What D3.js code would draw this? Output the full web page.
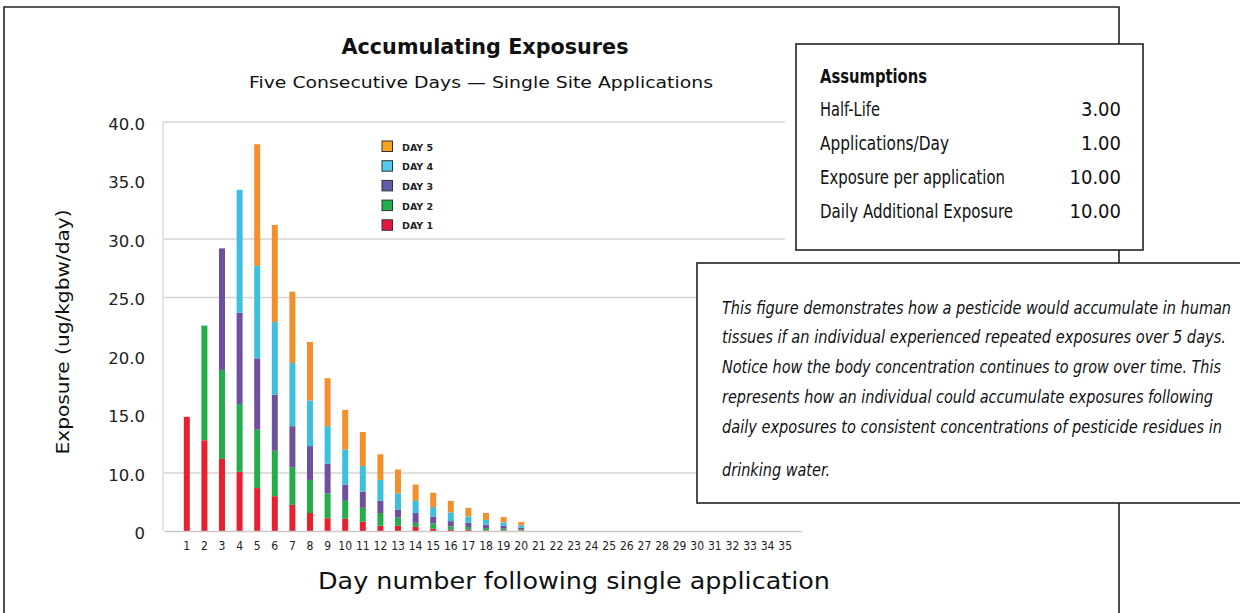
<!DOCTYPE html>
<html><head><meta charset="utf-8">
<script src="https://cdn.jsdelivr.net/npm/d3@7"></script>
<style>
html,body{margin:0;padding:0;background:#fff;}
svg{display:block;}
</style></head><body>
<svg id="chart" width="1240" height="613"></svg>
<script>
// ---------- DATA ----------
const days = ["1","2","3","4","5","6","7","8","9","10","11","12","13","14","15","16","17","18","19","20",
              "21","22","23","24","25","26","27","28","29","30","31","32","33","34","35"];
const seriesNames = ["DAY 1","DAY 2","DAY 3","DAY 4","DAY 5"];
const day1 = [14.8,12.8,11.2,10.1,7.4,6.0,4.5,3.1,2.2,2.1,1.6,0.9,0.9,0.7,0.4,0.2,0.2,0.1,0.1,0.1,0,0,0,0,0,0,0,0,0,0,0,0,0,0,0];
const day2 = [0,9.8,7.6,5.8,6.3,5.9,6.0,5.7,4.3,3.1,2.4,2.2,1.4,0.7,0.9,0.6,0.5,0.4,0.3,0.2,0,0,0,0,0,0,0,0,0,0,0,0,0,0,0];
const day3 = [0,0,10.4,7.8,6.1,4.8,3.5,3.5,4.3,2.8,2.8,2.1,1.4,1.7,1.2,0.9,0.7,0.6,0.5,0.3,0,0,0,0,0,0,0,0,0,0,0,0,0,0,0];
const day4 = [0,0,0,10.5,7.9,6.2,5.4,3.9,3.2,4.0,3.8,3.6,2.8,2.1,1.6,1.5,1.1,0.8,0.6,0.4,0,0,0,0,0,0,0,0,0,0,0,0,0,0,0];
const day5 = [0,0,0,0,10.4,8.3,6.1,5.0,4.1,3.4,2.9,2.8,3.8,2.8,2.5,2.0,1.5,1.2,0.9,0.55,0,0,0,0,0,0,0,0,0,0,0,0,0,0,0];
const yTicks = [0,10,15,20,25,30,35,40];
const yTickLabels = ["0","10.0","15.0","20.0","25.0","30.0","35.0","40.0"];
const titleText = "Accumulating Exposures";
const subtitleText = "Five Consecutive Days \u2014 Single Site Applications";
const yTitle = "Exposure (ug/kgbw/day)";
const xTitle = "Day number following single application";
const assumptionLabels = ["Half-Life","Applications/Day","Exposure per application","Daily Additional Exposure"];
const assumptionValues = ["3.00","1.00","10.00","10.00"];
const noteLines = [
  "This figure demonstrates how a pesticide would accumulate in human",
  "tissues if an individual experienced repeated exposures over 5 days.",
  "Notice how the body concentration continues to grow over time. This",
  "represents how an individual could accumulate exposures following",
  "daily exposures to consistent concentrations of pesticide residues in",
  "drinking water."
];

// ---------- STYLE ----------
const barColors = {"DAY 1":"#e8202f","DAY 2":"#25ad4b","DAY 3":"#6f4f9f","DAY 4":"#3dbfdf","DAY 5":"#f4902c"};
const legendColors = {"DAY 1":"#e3173e","DAY 2":"#1db04b","DAY 3":"#5d5ca8","DAY 4":"#55c8ee","DAY 5":"#f7a21b"};
const geo = "'DejaVu Sans', 'Open Sans', sans-serif";
const narrow = "'Liberation Sans Narrow', 'DejaVu Sans Condensed', 'Roboto', sans-serif";

const svg = d3.select("#chart");
svg.append("rect").attr("width",1240).attr("height",613).attr("fill","#fff");

// outer frame
svg.append("path").attr("d","M4,613 V7 H1119 V613").attr("fill","none").attr("stroke","#222").attr("stroke-width",1.6);

// scales
const x = d3.scaleBand().domain(days).range([178, 794]).paddingInner(0.66).paddingOuter(0.33);
const y = d3.scaleLinear().domain([0,10,40]).range([531,473,122]);

// gridlines
const grid = svg.append("g");
[10,25,30,40].forEach(v=>{
  grid.append("line").attr("x1",163).attr("x2",v===10?700:785)
    .attr("y1",y(v)).attr("y2",y(v)).attr("stroke","#d9d3d3").attr("stroke-width",1.5);
});
// y axis line
svg.append("line").attr("x1",163).attr("x2",163).attr("y1",y(40)).attr("y2",y(0)).attr("stroke","#ddd").attr("stroke-width",1.5);

// bars
const table = days.map((d,i)=>({day:d,"DAY 1":day1[i],"DAY 2":day2[i],"DAY 3":day3[i],"DAY 4":day4[i],"DAY 5":day5[i]}));
const stacked = d3.stack().keys(seriesNames)(table);
svg.append("g").selectAll("g").data(stacked).join("g")
  .attr("fill",s=>barColors[s.key])
  .selectAll("rect").data(s=>s.filter(p=>p[1]-p[0]>0)).join("rect")
  .attr("x",p=>x(p.data.day)).attr("width",x.bandwidth())
  .attr("y",p=>y(p[1])).attr("height",p=>y(p[0])-y(p[1]));

// baseline
svg.append("line").attr("x1",165).attr("x2",802).attr("y1",y(0)+0.5).attr("y2",y(0)+0.5).attr("stroke","#cfc6c6").attr("stroke-width",1.5);

// y axis labels
const yAxis = d3.axisLeft(y).tickValues(yTicks).tickSize(0).tickPadding(18)
  .tickFormat((d,i)=>yTickLabels[i]);
const yg = svg.append("g").attr("transform","translate(163,2)").call(yAxis);
yg.select(".domain").remove();
yg.selectAll("text").attr("font-family",geo).attr("font-size",16.5).attr("fill","#222");

// x axis labels
const xAxis = d3.axisBottom(x).tickSize(0).tickPadding(10);
const xg = svg.append("g").attr("transform",`translate(0,${y(0)})`).call(xAxis);
xg.select(".domain").remove();
xg.selectAll("text").attr("font-family",narrow).attr("font-size",12).attr("fill","#222");

// titles
svg.append("text").attr("x",485).attr("y",54).attr("text-anchor","middle")
  .attr("font-family",geo).attr("font-weight","bold").attr("font-size",22).attr("fill","#111")
  .attr("textLength",287).attr("lengthAdjust","spacingAndGlyphs").text(titleText);
svg.append("text").attr("x",481).attr("y",88).attr("text-anchor","middle")
  .attr("font-family",geo).attr("font-size",16).attr("fill","#111")
  .attr("textLength",464).attr("lengthAdjust","spacingAndGlyphs").text(subtitleText);
svg.append("text").attr("transform","translate(69,332) rotate(-90)").attr("text-anchor","middle")
  .attr("font-family",geo).attr("font-size",18).attr("fill","#111")
  .attr("textLength",245).attr("lengthAdjust","spacingAndGlyphs").text(yTitle);
svg.append("text").attr("x",574).attr("y",589).attr("text-anchor","middle")
  .attr("font-family",geo).attr("font-size",23).attr("fill","#111")
  .attr("textLength",512).attr("lengthAdjust","spacingAndGlyphs").text(xTitle);

// legend
const legendKeys = seriesNames.slice().reverse();
const lg = svg.append("g").attr("transform","translate(382,141)");
legendKeys.forEach((k,i)=>{
  const row = lg.append("g").attr("transform",`translate(0,${i*19.7})`);
  row.append("rect").attr("width",10.5).attr("height",10.5).attr("fill",legendColors[k]).attr("stroke","#333").attr("stroke-width",1);
  row.append("text").attr("x",20).attr("y",9.5).attr("font-family",geo).attr("font-weight","bold")
    .attr("font-size",9.5).attr("fill","#222").text(k);
});

// assumptions box
svg.append("rect").attr("x",796).attr("y",44).attr("width",347).attr("height",206)
  .attr("fill","#fff").attr("stroke","#222").attr("stroke-width",1.6);
svg.append("text").attr("x",820).attr("y",83).attr("font-family",narrow).attr("font-weight","bold")
  .attr("font-size",20).attr("fill","#111").attr("textLength",107).attr("lengthAdjust","spacingAndGlyphs").text("Assumptions");
const labW = [60,129,185,193];
assumptionLabels.forEach((t,i)=>{
  svg.append("text").attr("x",820).attr("y",116+i*34).attr("font-family",narrow)
    .attr("font-size",20).attr("fill","#111").attr("textLength",labW[i]).attr("lengthAdjust","spacingAndGlyphs").text(t);
  svg.append("text").attr("x",1121).attr("y",116+i*34).attr("text-anchor","end").attr("font-family",narrow)
    .attr("font-size",20).attr("fill","#111").text(assumptionValues[i]);
});

// note box
svg.append("rect").attr("x",697).attr("y",263).attr("width",600).attr("height",240)
  .attr("fill","#fff").attr("stroke","#222").attr("stroke-width",1.6);
const noteW = [509,504,499,491,500,108];
const noteY = [314,343,373,403,433,476];
noteLines.forEach((t,i)=>{
  svg.append("text").attr("x",722).attr("y",noteY[i]).attr("font-family",narrow).attr("font-style","italic")
    .attr("font-size",18).attr("fill","#111").attr("textLength",noteW[i]).attr("lengthAdjust","spacingAndGlyphs").text(t);
});
</script>
</body></html>
